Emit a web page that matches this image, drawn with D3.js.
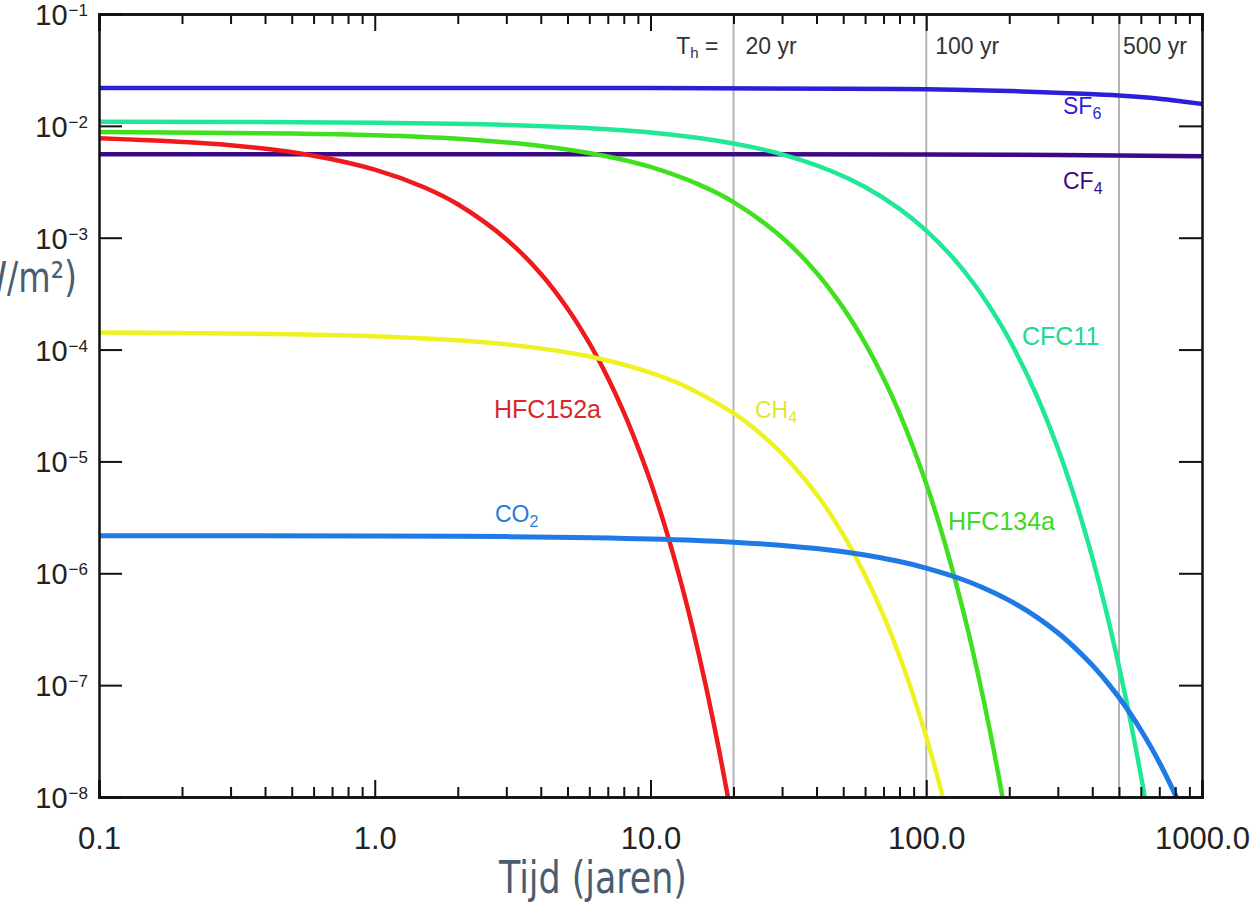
<!DOCTYPE html>
<html>
<head>
<meta charset="utf-8">
<script src="https://cdn.jsdelivr.net/npm/d3@7"></script>
<style>
  body { margin: 0; background: #fff; }
  svg { display: block; font-family: "Liberation Sans", Arial, sans-serif; }
</style>
</head>
<body>
<svg id="chart" width="1260" height="915"></svg>
<script>
// time (years) and forcing values (W/m2), per gas
const sf6Time = [0.1, 10, 50, 100, 200, 350, 500, 700, 1000];
const sf6Vals = [2.18e-2, 2.18e-2, 2.15e-2, 2.12e-2, 2.05e-2, 1.95e-2, 1.87e-2, 1.75e-2, 1.57e-2];

const cf4Time = [0.1, 10, 100, 300, 1000];
const cf4Vals = [5.58e-3, 5.57e-3, 5.55e-3, 5.5e-3, 5.35e-3];

const cfc11Time = [0.1, 1, 3, 7, 12, 20, 30, 45, 60, 80, 100, 125, 150, 175, 200, 250, 300, 350, 400, 450, 500, 550, 600, 650];
const cfc11Vals = [1.088e-2, 1.066e-2, 1.019e-2, 9.32e-3, 8.33e-3, 6.96e-3, 5.56e-3, 3.97e-3, 2.84e-3, 1.81e-3, 1.158e-3,
  6.61e-4, 3.78e-4, 2.15e-4, 1.23e-4, 4.01e-5, 1.31e-5, 4.26e-6, 1.39e-6, 4.52e-7, 1.47e-7, 4.8e-8, 1.57e-8, 5.1e-9];

const hfc134aTime = [0.1, 0.5, 1, 2, 4, 7, 10, 15, 20, 30, 40, 50, 60, 70, 80, 90, 100, 110, 125, 140, 155, 170, 185, 200];
const hfc134aVals = [8.79e-3, 8.53e-3, 8.23e-3, 7.66e-3, 6.62e-3, 5.33e-3, 4.29e-3, 2.98e-3, 2.08e-3, 1.006e-3, 4.87e-4,
  2.36e-4, 1.144e-4, 5.55e-5, 2.69e-5, 1.3e-5, 6.31e-6, 3.06e-6, 1.03e-6, 3.48e-7, 1.17e-7, 3.96e-8, 1.34e-8, 4.5e-9];

const hfc152aTime = [0.1, 0.3, 0.6, 1, 1.5, 2, 3, 4, 5, 6, 7, 8, 9, 10, 11.5, 13, 14, 15, 16, 17, 18, 19, 20];
const hfc152aVals = [7.73e-3, 6.7e-3, 5.41e-3, 4.06e-3, 2.84e-3, 1.99e-3, 9.7e-4, 4.77e-4, 2.33e-4, 1.14e-4, 5.6e-5,
  2.74e-5, 1.34e-5, 6.6e-6, 2.25e-6, 7.7e-7, 3.77e-7, 1.84e-7, 9.0e-8, 4.4e-8, 2.16e-8, 1.06e-8, 5.2e-9];

const ch4Time = [0.1, 0.5, 1, 2, 3, 5, 7, 10, 14, 20, 25, 30, 40, 50, 60, 70, 80, 90, 100, 110, 120];
const ch4Vals = [1.418e-4, 1.372e-4, 1.316e-4, 1.211e-4, 1.114e-4, 9.43e-5, 7.98e-5, 6.21e-5, 4.45e-5, 2.7e-5, 1.78e-5,
  1.17e-5, 5.1e-6, 2.22e-6, 9.6e-7, 4.19e-7, 1.82e-7, 7.9e-8, 3.44e-8, 1.49e-8, 6.5e-9];

const co2Time = [0.1, 1, 3, 10, 20, 40, 60, 80, 100, 130, 160, 200, 250, 300, 350, 400, 450, 500, 550, 600, 650, 700, 750, 800, 850];
const co2Vals = [2.17e-6, 2.156e-6, 2.127e-6, 2.03e-6, 1.899e-6, 1.662e-6, 1.455e-6, 1.273e-6, 1.114e-6, 9.12e-7, 7.47e-7,
  5.72e-7, 4.1e-7, 2.94e-7, 2.1e-7, 1.51e-7, 1.08e-7, 7.74e-8, 5.55e-8, 3.97e-8, 2.85e-8, 2.04e-8, 1.46e-8, 1.05e-8, 7.5e-9];

const gasNames = ["SF6", "CF4", "CFC11", "HFC134a", "HFC152a", "CH4", "CO2"];
const gasColors = ["#2c1fd8", "#3d0a85", "#20e897", "#40e020", "#f0191c", "#eef222", "#1f7ae6"];

const horizonYears = [20, 100, 500];
const horizonLabels = ["20 yr", "100 yr", "500 yr"];

const xTickVals = [0.1, 1, 10, 100, 1000];
const yTickExp = [-1, -2, -3, -4, -5, -6, -7, -8];

const series = [
  [sf6Time, sf6Vals], [cf4Time, cf4Vals], [cfc11Time, cfc11Vals],
  [hfc134aTime, hfc134aVals], [hfc152aTime, hfc152aVals],
  [ch4Time, ch4Vals], [co2Time, co2Vals]
].map(([t, v], i) => ({
  name: gasNames[i],
  color: gasColors[i],
  points: t.map((d, j) => ({ t: d, v: v[j] }))
}));

const plotLeft = 99, plotRight = 1202, plotTop = 14, plotBottom = 797;

const x = d3.scaleLog().domain([0.1, 1000]).range([plotLeft, plotRight]);
const y = d3.scaleLog().domain([1e-8, 1e-1]).range([plotBottom, plotTop]);

const svg = d3.select("#chart");

svg.append("clipPath").attr("id", "plot-clip")
  .append("rect")
  .attr("x", plotLeft).attr("y", plotTop)
  .attr("width", plotRight - plotLeft).attr("height", plotBottom - plotTop);

// time horizon lines
svg.append("g")
  .selectAll("line")
  .data(horizonYears)
  .enter()
  .append("line")
  .attr("x1", d => x(d)).attr("x2", d => x(d))
  .attr("y1", plotTop).attr("y2", plotBottom)
  .attr("stroke", "#b4b4b4")
  .attr("stroke-width", 2);

const horizonGap = [12, 9, 4];
let hz = svg.append("g").attr("font-size", 23).attr("fill", "#333");
hz.selectAll("text")
  .data(horizonYears)
  .enter()
  .append("text")
  .attr("x", (d, i) => x(d) + horizonGap[i])
  .attr("y", 54)
  .text((d, i) => horizonLabels[i]);

let th = hz.append("text")
  .attr("x", x(20) - 15)
  .attr("y", 54)
  .attr("text-anchor", "end");
th.append("tspan").text("T");
th.append("tspan").attr("font-size", 15).attr("dy", 4).text("h");
th.append("tspan").attr("dy", -4).text(" =");

// curves
const line = d3.line()
  .x(d => x(d.t))
  .y(d => y(d.v))
  .curve(d3.curveCatmullRom.alpha(0.5));

svg.append("g")
  .attr("clip-path", "url(#plot-clip)")
  .selectAll("path")
  .data(series)
  .enter()
  .append("path")
  .attr("d", d => line(d.points))
  .attr("fill", "none")
  .attr("stroke", d => d.color)
  .attr("stroke-width", d => (d.name === "CO2" ? 5 : 4.5))
  .attr("stroke-linejoin", "round");

// axes
const minorX = [];
for (let e = -1; e < 3; e++) {
  for (let m = 2; m <= 9; m++) minorX.push(m * Math.pow(10, e));
}

function styleAxis(g) {
  g.select(".domain").attr("stroke", "#111").attr("stroke-width", 2.5);
  g.selectAll(".tick line").attr("stroke", "#111").attr("stroke-width", 2);
}

svg.append("g")
  .attr("transform", `translate(0,${plotBottom})`)
  .call(d3.axisBottom(x).tickValues(minorX).tickSize(-10).tickFormat(""))
  .call(styleAxis);

svg.append("g")
  .attr("transform", `translate(0,${plotTop})`)
  .call(d3.axisTop(x).tickValues(minorX).tickSize(-10).tickFormat(""))
  .call(styleAxis);

svg.append("g")
  .attr("transform", `translate(0,${plotTop})`)
  .call(d3.axisTop(x).tickValues(xTickVals).tickSize(-17).tickFormat(""))
  .call(styleAxis);

let xAxis = svg.append("g")
  .attr("transform", `translate(0,${plotBottom})`)
  .call(d3.axisBottom(x).tickValues(xTickVals).tickSize(-17).tickPadding(30).tickFormat(d3.format(".1f")))
  .call(styleAxis);
xAxis.selectAll("text")
  .attr("font-size", 31)
  .attr("font-family", "Liberation Sans, Arial, sans-serif")
  .attr("fill", "#222");

const yTickVals = yTickExp.map(e => Math.pow(10, e));

svg.append("g")
  .attr("transform", `translate(${plotLeft},0)`)
  .call(d3.axisLeft(y).tickValues(yTickVals).tickSize(-23).tickFormat(""))
  .call(styleAxis);

svg.append("g")
  .attr("transform", `translate(${plotRight},0)`)
  .call(d3.axisRight(y).tickValues(yTickVals).tickSize(-23).tickFormat(""))
  .call(styleAxis);

let yLabels = svg.append("g").attr("fill", "#222");
yTickExp.forEach(e => {
  let t = yLabels.append("text")
    .attr("x", 88)
    .attr("y", y(Math.pow(10, e)) + 11)
    .attr("text-anchor", "end")
    .attr("font-size", 29);
  t.append("tspan").text("10");
  t.append("tspan").attr("font-size", 17).attr("dx", 1).attr("dy", -9).text("\u2212" + (-e));
});

// gas labels
const labelPos = {
  SF6: [1063, 114], CF4: [1063, 189], CFC11: [1022, 345], HFC134a: [948, 530],
  HFC152a: [494, 418], CH4: [755, 418], CO2: [495, 522]
};
const labelColors = {
  SF6: "#2c1fd8", CF4: "#3d0a85", CFC11: "#20d890", HFC134a: "#40d820",
  HFC152a: "#d82828", CH4: "#e6e628", CO2: "#2a7ad8"
};

series.forEach(s => {
  let [lx, ly] = labelPos[s.name];
  let t = svg.append("text")
    .attr("x", lx).attr("y", ly)
    .attr("fill", labelColors[s.name]);
  let m = s.name.match(/^([A-Z]+)(\d)$/);
  if (m && ["SF6", "CF4", "CH4", "CO2"].includes(s.name)) {
    t.attr("font-size", 23);
    t.append("tspan").text(m[1]);
    t.append("tspan").attr("font-size", 16).attr("dy", 5).text(m[2]);
  } else {
    t.attr("font-size", 25).text(s.name);
  }
});

// axis titles
svg.append("text")
  .attr("transform", "translate(593,893) scale(0.88,1)")
  .attr("text-anchor", "middle")
  .attr("font-size", 44)
  .attr("font-family", "Liberation Sans Narrow, DejaVu Sans Condensed, sans-serif")
  .attr("fill", "#4a5d70")
  .text("Tijd (jaren)");

svg.append("text")
  .attr("transform", "translate(77,292) scale(0.88,1)")
  .attr("text-anchor", "end")
  .attr("font-size", 42)
  .attr("font-family", "Liberation Sans Narrow, DejaVu Sans Condensed, sans-serif")
  .attr("fill", "#4a5d70")
  .text("Forcering (W/m²)");
</script>
</body>
</html>
